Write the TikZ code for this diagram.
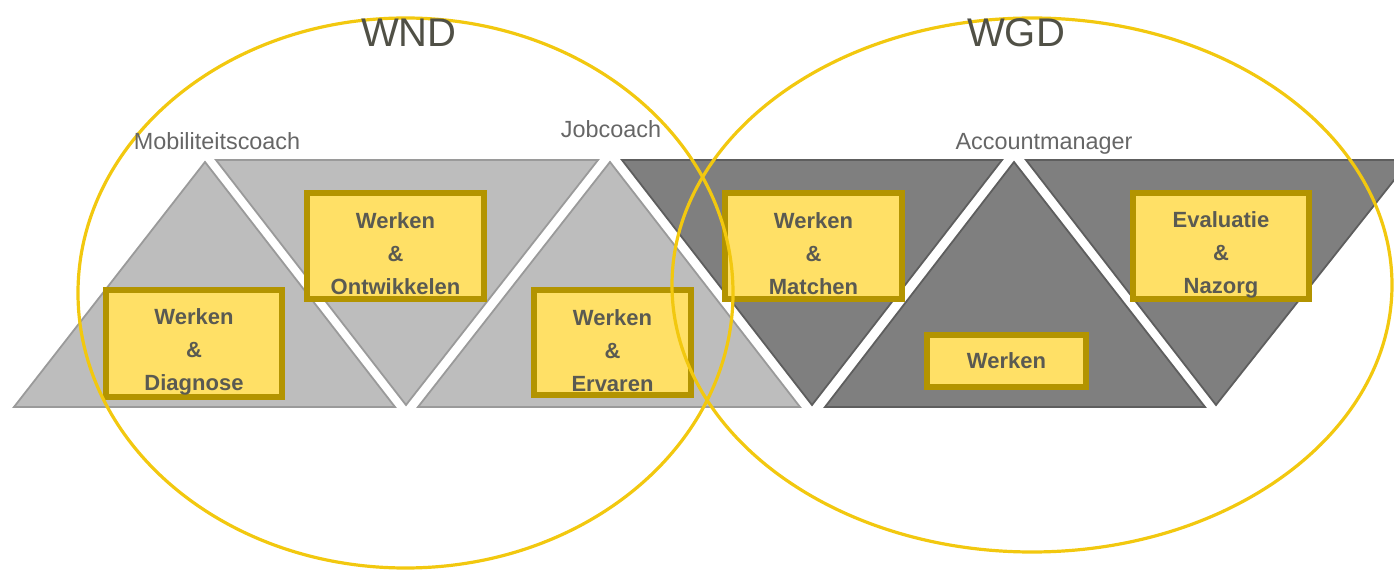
\documentclass[tikz,border=0pt]{standalone}
\usepackage{fontspec}
\setmainfont{Liberation Sans}
\definecolor{lightfill}{HTML}{BDBDBD}
\definecolor{lightedge}{HTML}{9A9A9A}
\definecolor{darkfill}{HTML}{7F7F7F}
\definecolor{darkedge}{HTML}{5E5E5E}
\definecolor{boxfill}{HTML}{FFE066}
\definecolor{boxedge}{HTML}{B39400}
\definecolor{ellcol}{HTML}{F2C80F}
\definecolor{txtcol}{HTML}{5A5A52}
\definecolor{bigcol}{HTML}{505046}
\definecolor{lblcol}{HTML}{666666}
\begin{document}
\begin{tikzpicture}[x=0.5pt,y=-0.5pt,
  lighttri/.style={fill=lightfill,draw=lightedge,line width=0.9pt,line join=miter},
  darktri/.style={fill=darkfill,draw=darkedge,line width=0.9pt,line join=miter},
  stagebox/.style={fill=boxfill,draw=boxedge,line width=3pt,inner sep=0pt},
  stagetext/.style={align=center,text=txtcol,
     font=\bfseries\fontsize{11}{16.5}\selectfont,inner sep=0pt},
  ell/.style={draw=ellcol,line width=1.6pt},
  big/.style={text=bigcol,font=\fontsize{20}{24}\selectfont,anchor=base},
  role/.style={text=lblcol,font=\fontsize{11.7}{13}\selectfont,anchor=base}]
\useasboundingbox (0,0) rectangle (1394,571);
\begin{scope}
\clip (0,0) rectangle (1394,571);
% light triangles
\path[lighttri] (205,162) -- (395,407) -- (14,407) -- cycle;
\path[lighttri] (216,160) -- (598,160) -- (406,405) -- cycle;
\path[lighttri] (610,162) -- (800,407) -- (418,407) -- cycle;
% dark triangles
\path[darktri] (622,160) -- (1002,160) -- (812,405) -- cycle;
\path[darktri] (1014,162) -- (1205,407) -- (825,407) -- cycle;
\path[darktri] (1026,160) -- (1410,160) -- (1216,405) -- cycle;
\end{scope}
% boxes
\node[stagebox,minimum width=88pt,minimum height=53.5pt] (diag) at (194,343.5) {};
\node[stagebox,minimum width=88.5pt,minimum height=53pt] (ontw) at (395.5,246) {};
\node[stagebox,minimum width=78.5pt,minimum height=52.5pt] (erv) at (612.5,342.5) {};
\node[stagebox,minimum width=88.5pt,minimum height=53pt] (match) at (813.5,246) {};
\node[stagebox,minimum width=79.5pt,minimum height=26pt] (werk) at (1006.5,361) {};
\node[stagebox,minimum width=88pt,minimum height=53pt] (eval) at (1221,246) {};
\node[stagetext] (diagt) at ([yshift=-4pt]diag.center) {Werken\\\&\\Diagnose};
\node[stagetext] (ontwt) at ([yshift=-4pt]ontw.center) {Werken\\\&\\Ontwikkelen};
\node[stagetext] (ervt) at ([yshift=-4pt]erv.center) {Werken\\\&\\Ervaren};
\node[stagetext] (matcht) at ([yshift=-4pt]match.center) {Werken\\\&\\Matchen};
\node[stagetext] (werkt) at (werk.center) {Werken};
\node[stagetext] (evalt) at ([yshift=-4.5pt]eval.center) {Evaluatie\\\&\\Nazorg};
% ellipses
\draw[ell] (405.5,293) ellipse [x radius=163.75pt, y radius=137.5pt];
\draw[ell] (1032,285) ellipse [x radius=180pt, y radius=133.5pt];
% labels
\node[big] (wnd) at (409,47) {WND};
\node[big] (wgd) at (1016,47) {WGD};
\node[role] (mob) at (217,150) {Mobiliteitscoach};
\node[role] (job) at (611,138) {Jobcoach};
\node[role] (acc) at (1044,150) {Accountmanager};
\end{tikzpicture}
\end{document}
